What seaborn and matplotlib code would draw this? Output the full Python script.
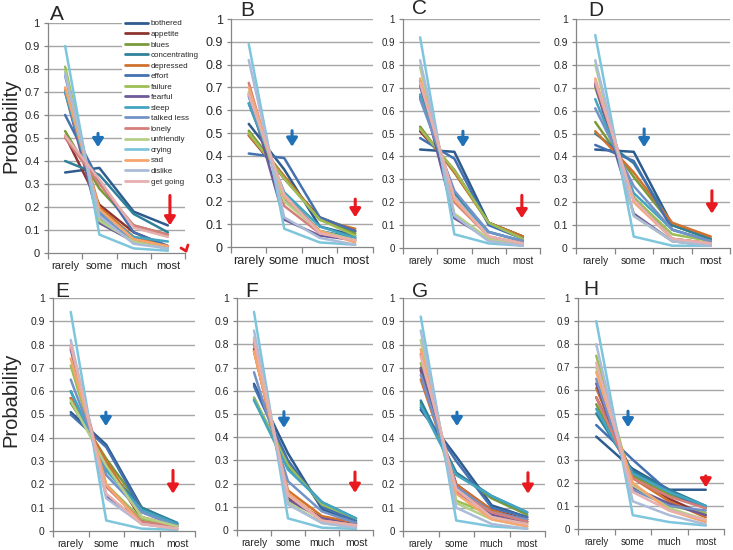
import matplotlib
matplotlib.use('Agg')
import numpy as np
import pandas as pd
import matplotlib.pyplot as plt
from matplotlib.lines import Line2D
import seaborn as sns

# --- data --------------------------------------------------------------
levels = ['rarely', 'some', 'much', 'most']
items = ['bothered', 'appetite', 'blues', 'concentrating', 'depressed', 'effort',
         'failure', 'fearful', 'sleep', 'talked less', 'lonely', 'unfriendly',
         'crying', 'sad', 'dislike', 'get going']
item_colors = ['#2E5C8E', '#8E3431', '#7A9A3A', '#2F8199', '#D0722F', '#4472B0',
               '#9DBE55', '#6F5A99', '#43A5C0', '#7393C7', '#D47F7C', '#B5CF85',
               '#7EC6DC', '#F6A66C', '#ABBCD9', '#E5B0AF']

# one row per item (same order as `items`), columns = levels
panel_A = [[0.35, 0.37, 0.18, 0.12], [0.51, 0.21, 0.09, 0.03], [0.53, 0.28, 0.12, 0.08],
           [0.40, 0.34, 0.17, 0.09], [0.71, 0.20, 0.07, 0.03], [0.60, 0.31, 0.09, 0.03],
           [0.81, 0.15, 0.05, 0.02], [0.70, 0.13, 0.05, 0.03], [0.70, 0.18, 0.07, 0.05],
           [0.77, 0.17, 0.05, 0.02], [0.50, 0.30, 0.12, 0.08], [0.79, 0.14, 0.05, 0.02],
           [0.90, 0.08, 0.02, 0.01], [0.72, 0.19, 0.06, 0.03], [0.78, 0.16, 0.04, 0.02],
           [0.51, 0.32, 0.11, 0.07]]
panel_B = [[0.54, 0.34, 0.09, 0.05], [0.49, 0.30, 0.13, 0.07], [0.51, 0.31, 0.12, 0.06],
           [0.63, 0.23, 0.07, 0.04], [0.49, 0.31, 0.12, 0.08], [0.41, 0.39, 0.13, 0.07],
           [0.50, 0.30, 0.12, 0.05], [0.67, 0.12, 0.05, 0.03], [0.63, 0.24, 0.09, 0.04],
           [0.66, 0.21, 0.07, 0.03], [0.72, 0.18, 0.06, 0.03], [0.68, 0.20, 0.07, 0.03],
           [0.89, 0.08, 0.02, 0.01], [0.70, 0.22, 0.07, 0.02], [0.82, 0.13, 0.04, 0.01],
           [0.67, 0.23, 0.06, 0.03]]
panel_C = [[0.43, 0.42, 0.11, 0.05], [0.51, 0.34, 0.11, 0.05], [0.53, 0.33, 0.11, 0.05],
           [0.66, 0.24, 0.07, 0.03], [0.52, 0.33, 0.11, 0.05], [0.48, 0.39, 0.10, 0.04],
           [0.52, 0.34, 0.11, 0.04], [0.71, 0.13, 0.04, 0.02], [0.67, 0.22, 0.07, 0.03],
           [0.65, 0.25, 0.07, 0.03], [0.73, 0.20, 0.05, 0.02], [0.79, 0.15, 0.04, 0.01],
           [0.92, 0.06, 0.02, 0.01], [0.74, 0.21, 0.05, 0.02], [0.82, 0.14, 0.03, 0.01],
           [0.72, 0.22, 0.05, 0.02]]
panel_D = [[0.43, 0.42, 0.10, 0.04], [0.72, 0.22, 0.04, 0.02], [0.55, 0.31, 0.10, 0.04],
           [0.50, 0.37, 0.10, 0.04], [0.51, 0.33, 0.11, 0.05], [0.45, 0.38, 0.08, 0.03],
           [0.70, 0.22, 0.06, 0.03], [0.71, 0.15, 0.03, 0.01], [0.65, 0.24, 0.08, 0.03],
           [0.61, 0.27, 0.08, 0.03], [0.72, 0.21, 0.04, 0.02], [0.80, 0.14, 0.03, 0.01],
           [0.93, 0.05, 0.01, 0.01], [0.74, 0.20, 0.04, 0.02], [0.82, 0.14, 0.03, 0.01],
           [0.73, 0.21, 0.04, 0.02]]
panel_E = [[0.51, 0.37, 0.10, 0.03], [0.57, 0.29, 0.05, 0.02], [0.55, 0.31, 0.10, 0.03],
           [0.60, 0.27, 0.10, 0.035], [0.57, 0.30, 0.06, 0.02], [0.50, 0.36, 0.09, 0.03],
           [0.71, 0.20, 0.05, 0.02], [0.78, 0.15, 0.04, 0.01], [0.60, 0.26, 0.09, 0.03],
           [0.65, 0.24, 0.08, 0.02], [0.79, 0.19, 0.04, 0.02], [0.56, 0.28, 0.06, 0.02],
           [0.94, 0.045, 0.01, 0.005], [0.74, 0.20, 0.03, 0.01], [0.82, 0.14, 0.03, 0.01],
           [0.80, 0.16, 0.03, 0.01]]
panel_F = [[0.63, 0.33, 0.09, 0.03], [0.78, 0.14, 0.05, 0.03], [0.56, 0.29, 0.11, 0.04],
           [0.57, 0.27, 0.12, 0.05], [0.77, 0.17, 0.06, 0.03], [0.62, 0.30, 0.10, 0.04],
           [0.57, 0.28, 0.11, 0.05], [0.81, 0.13, 0.05, 0.02], [0.56, 0.26, 0.12, 0.05],
           [0.68, 0.21, 0.08, 0.03], [0.80, 0.15, 0.04, 0.02], [0.83, 0.12, 0.03, 0.01],
           [0.94, 0.05, 0.01, 0.005], [0.77, 0.16, 0.04, 0.02], [0.86, 0.11, 0.03, 0.01],
           [0.82, 0.15, 0.04, 0.02]]
panel_G = [[0.52, 0.32, 0.11, 0.06], [0.69, 0.20, 0.09, 0.05], [0.55, 0.25, 0.14, 0.07],
           [0.56, 0.25, 0.15, 0.08], [0.65, 0.20, 0.09, 0.04], [0.53, 0.30, 0.10, 0.06],
           [0.72, 0.13, 0.07, 0.03], [0.70, 0.17, 0.07, 0.04], [0.54, 0.24, 0.15, 0.08],
           [0.67, 0.19, 0.08, 0.05], [0.76, 0.17, 0.08, 0.04], [0.82, 0.12, 0.05, 0.02],
           [0.92, 0.045, 0.02, 0.01], [0.78, 0.16, 0.05, 0.02], [0.86, 0.10, 0.03, 0.01],
           [0.75, 0.18, 0.06, 0.03]]
panel_H = [[0.40, 0.26, 0.17, 0.17], [0.57, 0.24, 0.13, 0.06], [0.54, 0.23, 0.15, 0.09],
           [0.50, 0.25, 0.17, 0.10], [0.61, 0.22, 0.12, 0.05], [0.45, 0.30, 0.16, 0.09],
           [0.75, 0.18, 0.10, 0.07], [0.63, 0.18, 0.11, 0.06], [0.52, 0.24, 0.16, 0.10],
           [0.65, 0.17, 0.10, 0.08], [0.57, 0.22, 0.14, 0.09], [0.70, 0.19, 0.09, 0.04],
           [0.90, 0.06, 0.03, 0.015], [0.68, 0.20, 0.08, 0.03], [0.80, 0.12, 0.06, 0.02],
           [0.72, 0.16, 0.08, 0.04]]

panel_names = ['A', 'B', 'C', 'D', 'E', 'F', 'G', 'H']
panel_data = [panel_A, panel_B, panel_C, panel_D, panel_E, panel_F, panel_G, panel_H]
y_ticks = [0, 0.1, 0.2, 0.3, 0.4, 0.5, 0.6, 0.7, 0.8, 0.9, 1]
y_tick_labels = ['0', '0.1', '0.2', '0.3', '0.4', '0.5', '0.6', '0.7', '0.8', '0.9', '1']

# arrow annotations: x (category position), tail y, tip y
blue_arrows = [(0.96, 0.52, 0.46), (1.22, 0.51, 0.44), (1.25, 0.51, 0.44), (1.27, 0.52, 0.44),
               (0.99, 0.51, 0.45), (0.88, 0.51, 0.44), (1.02, 0.51, 0.45), (0.87, 0.51, 0.44)]
red_arrows = [(3.06, 0.25, 0.12), (3.00, 0.21, 0.13), (2.97, 0.23, 0.13), (3.03, 0.25, 0.15),
              (2.88, 0.26, 0.16), (2.97, 0.25, 0.16), (3.02, 0.25, 0.16), (3.00, 0.23, 0.18)]

# --- layout (pixel boxes: left, right, top, bottom) --------------------
W, H = 733, 550
boxes = [(48, 185, 23, 253), (231, 373, 19, 247), (403, 540, 19, 248), (576, 730, 19, 248),
         (53, 195, 298, 531), (237, 373, 298, 530), (403, 545, 298, 531), (578, 724, 298, 529)]
letter_pos = [(50, 20), (240, 16), (412, 14), (588, 16), (55, 297), (245, 297), (412, 297), (583, 295)]
tick_sizes = [8, 9, 7, 7.5, 7.5, 7.5, 7, 7]

sns.set_style('white')
plt.rcParams['font.family'] = ['Liberation Sans', 'DejaVu Sans']

palette = dict(zip(items, item_colors))
fig = plt.figure(figsize=(W / 100, H / 100), dpi=100)
fig.patch.set_facecolor('white')
axis_gray = '#868686'
grid_gray = '#A6A6A6'
arrow_style = '-|>,head_width=0.32,head_length=0.5'

for k, name in enumerate(panel_names):
    l, r, t, b = boxes[k]
    ax = fig.add_axes([l / W, 1 - b / H, (r - l) / W, (b - t) / H])
    # transparent axes background; the figure is already white
    ax.patch.set_visible(False)

    rows = []
    for item, vals in zip(items, panel_data[k]):
        for lvl, v in zip(levels, vals):
            rows.append({'item': item, 'level': lvl, 'prob': v})
    df = pd.DataFrame(rows)
    # category index along x (0 = rarely ... 3 = most)
    df['pos'] = pd.Categorical(df['level'], categories=levels).codes

    sns.lineplot(data=df, x='pos', y='prob', hue='item', hue_order=items,
                 palette=palette, sort=False, estimator=None, linewidth=1.8,
                 legend=False, ax=ax, zorder=2)

    ax.set_xlim(-0.5, 3.5)
    ax.set_ylim(0, 1)

    # horizontal gridlines (Excel style), just under the series
    for yv in y_ticks[1:]:
        ax.axhline(yv, color=grid_gray, lw=1.0, zorder=1.5)

    ax.set_yticks(y_ticks)
    ax.set_yticklabels(y_tick_labels)
    for s in ['top', 'right']:
        ax.spines[s].set_visible(False)
    for s in ['left', 'bottom']:
        ax.spines[s].set_color(axis_gray)
        ax.spines[s].set_linewidth(0.9)
        ax.spines[s].set_zorder(3)
    ax.set_xticks(range(4))
    ax.set_xticklabels(levels)
    ax.set_xticks([-0.5, 0.5, 1.5, 2.5, 3.5], minor=True)
    ax.tick_params(axis='y', left=True, length=3, color=axis_gray, width=0.9,
                   labelsize=tick_sizes[k], pad=3)
    ax.tick_params(axis='x', which='major', bottom=True, length=0,
                   labelsize=tick_sizes[k], pad=6)
    ax.tick_params(axis='x', which='minor', bottom=True, length=4, color=axis_gray, width=0.9)
    ax.set_xlabel('')
    ax.set_ylabel('')

    bx, by0, by1 = blue_arrows[k]
    ax.annotate('', xy=(bx, by1), xytext=(bx, by0),
                arrowprops=dict(arrowstyle=arrow_style, color='#1F72B8', lw=2.2,
                                mutation_scale=10, shrinkA=0, shrinkB=0))
    rx, ry0, ry1 = red_arrows[k]
    ax.annotate('', xy=(rx, ry1), xytext=(rx, ry0),
                arrowprops=dict(arrowstyle=arrow_style, color='#E8191F', lw=2.2,
                                mutation_scale=10, shrinkA=0, shrinkB=0))

    lx, ly = letter_pos[k]
    fig.text(lx / W, 1 - ly / H, name, fontsize=15, va='baseline', ha='left')

# y labels
fig.text(11 / W, 1 - 126 / H, 'Probability', rotation=90, fontsize=14.5, va='center', ha='center')
fig.text(11 / W, 1 - 400 / H, 'Probability', rotation=90, fontsize=14.5, va='center', ha='center')

# stray red arrowhead at bottom right of panel A
fig.add_artist(plt.Line2D([181 / W, 186 / W], [1 - 248 / H, 1 - 251 / H], color='#E8191F', lw=2))
fig.add_artist(plt.Line2D([186 / W, 188 / W], [1 - 251 / H, 1 - 245 / H], color='#E8191F', lw=2))

# legend in panel A
handles = [Line2D([0], [0], color=c, lw=2) for c in item_colors]
leg = fig.legend(handles, items, loc='upper left', bbox_to_anchor=(122 / W, 1 - 17 / H),
                 fontsize=5.8, handlelength=2.9, handletextpad=0.3, labelspacing=0.36,
                 frameon=True, facecolor='white', edgecolor='none', framealpha=1,
                 borderpad=0.35, borderaxespad=0)

fig.savefig('out.png', dpi=100, facecolor='white')
